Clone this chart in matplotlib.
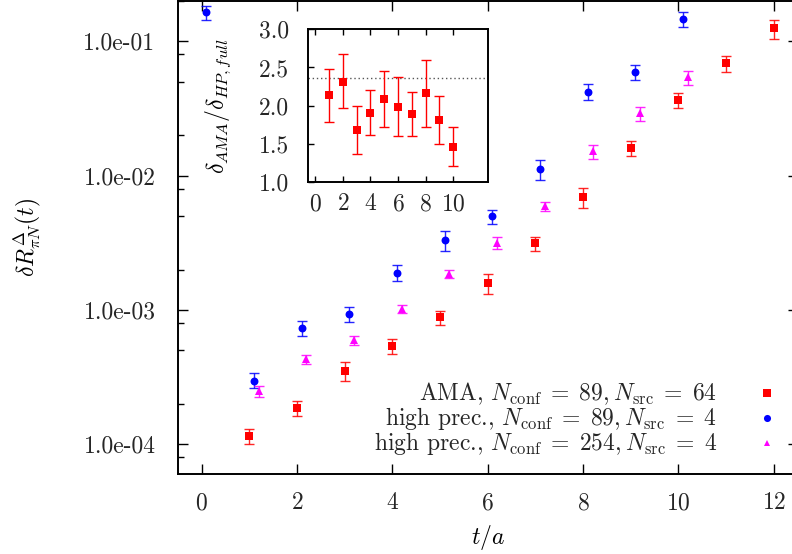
import numpy as np
import matplotlib
matplotlib.use("Agg")
import matplotlib.pyplot as plt
from matplotlib.ticker import FixedLocator, FuncFormatter, NullFormatter

# --- data ---
# AMA, N_conf = 89, N_src = 64
t_ama = np.array([1, 2, 3, 4, 5, 6, 7, 8, 9, 10, 11, 12])
y_ama = np.array([1.15e-4, 1.86e-4, 3.51e-4, 5.38e-4, 8.83e-4, 1.58e-3,
                  3.14e-3, 6.9e-3, 1.60e-2, 3.64e-2, 6.86e-2, 1.25e-1])
lo_ama = np.array([1.0e-4, 1.61e-4, 2.94e-4, 4.72e-4, 7.67e-4, 1.32e-3,
                   2.74e-3, 5.75e-3, 1.40e-2, 3.19e-2, 5.96e-2, 1.035e-1])
hi_ama = np.array([1.29e-4, 2.09e-4, 4.12e-4, 6.04e-4, 9.9e-4, 1.86e-3,
                   3.52e-3, 8.05e-3, 1.82e-2, 4.13e-2, 7.73e-2, 1.45e-1])

# high prec., N_conf = 89, N_src = 4
t_hp89 = np.array([0, 1, 2, 3, 4, 5, 6, 7, 8, 9, 10])
y_hp89 = np.array([1.645e-1, 2.97e-4, 7.33e-4, 9.25e-4, 1.90e-3, 3.33e-3,
                   4.97e-3, 1.116e-2, 4.22e-2, 5.91e-2, 1.468e-1])
lo_hp89 = np.array([1.44e-1, 2.61e-4, 6.43e-4, 8.07e-4, 1.65e-3, 2.77e-3,
                    4.33e-3, 9.3e-3, 3.67e-2, 5.16e-2, 1.285e-1])
hi_hp89 = np.array([1.845e-1, 3.37e-4, 8.26e-4, 1.044e-3, 2.15e-3, 3.86e-3,
                    5.57e-3, 1.31e-2, 4.79e-2, 6.67e-2, 1.664e-1])

# high prec., N_conf = 254, N_src = 4
t_hp254 = np.array([1, 2, 3, 4, 5, 6, 7, 8, 9, 10])
y_hp254 = np.array([2.49e-4, 4.31e-4, 5.96e-4, 1.02e-3, 1.86e-3, 3.14e-3,
                    5.91e-3, 1.52e-2, 2.91e-2, 5.43e-2])
lo_hp254 = np.array([2.23e-4, 3.95e-4, 5.44e-4, 9.5e-4, 1.73e-3, 2.84e-3,
                     5.49e-3, 1.324e-2, 2.56e-2, 4.74e-2])
hi_hp254 = np.array([2.7e-4, 4.65e-4, 6.43e-4, 1.09e-3, 1.99e-3, 3.52e-3,
                     6.41e-3, 1.695e-2, 3.25e-2, 6.02e-2])

# inset: ratio of errors
t_ratio = np.array([1, 2, 3, 4, 5, 6, 7, 8, 9, 10])
ratio = np.array([2.139, 2.309, 1.681, 1.903, 2.082, 1.982, 1.890, 2.165, 1.812, 1.462])
ratio_lo = np.array([1.785, 1.965, 1.371, 1.62, 1.724, 1.598, 1.606, 1.72, 1.493, 1.209])
ratio_hi = np.array([2.483, 2.671, 1.991, 2.2, 2.449, 2.37, 2.182, 2.60, 2.13, 1.724])
ratio_ref = 2.365

labels = [r"AMA, $N_{\rm conf}\;=\;89, N_{\rm src}\;=\;64$",
          r"high prec., $N_{\rm conf}\;=\;89, N_{\rm src}\;=\;4$",
          r"high prec., $N_{\rm conf}\;=\;254, N_{\rm src}\;=\;4$"]

# --- style ---
plt.rcParams['font.family'] = 'cmr10'
plt.rcParams['mathtext.fontset'] = 'cm'
plt.rcParams['axes.formatter.use_mathtext'] = True
font_size = 17
text_col = '#262626'
plt.rcParams['text.color'] = text_col
plt.rcParams['xtick.labelcolor'] = text_col
plt.rcParams['ytick.labelcolor'] = text_col

fig = plt.figure(figsize=(7.92, 5.54), dpi=100)
ax = fig.add_axes([0.2244, 0.1444, 0.7826, 0.8538])

series = [
    (t_ama, 0.0, y_ama, lo_ama, hi_ama, 's', 5.9, '#ff0000'),
    (t_hp89, 0.1, y_hp89, lo_hp89, hi_hp89, 'o', 5.7, '#0000ff'),
    (t_hp254, 0.2, y_hp254, lo_hp254, hi_hp254, '^', 5.6, '#ff00ff'),
]
for t, off, y, lo, hi, mk, ms, col in series:
    eb = ax.errorbar(t + off, y, yerr=[y - lo, hi - y], fmt=mk, ms=ms, color=col,
                     elinewidth=1.0, capsize=3.4, capthick=1.0, ecolor=col)
    eb[0].set_markeredgewidth(0)
    for c in eb[1]:
        c.set_alpha(0.85)
    for c in eb[2]:
        c.set_alpha(0.85)

ax.set_yscale('log')
ax.set_xlim(-0.5, 12.5)
ax.set_ylim(6e-5, 0.2)

ax.xaxis.set_major_locator(FixedLocator(np.arange(0, 13, 2)))
ax.yaxis.set_major_locator(FixedLocator([1e-4, 1e-3, 1e-2, 1e-1]))
minors = [m * 10.0 ** e for e in range(-5, 0) for m in (2, 5, 8)]
ax.yaxis.set_minor_locator(FixedLocator(minors))
ax.yaxis.set_minor_formatter(NullFormatter())
ax.yaxis.set_major_formatter(FuncFormatter(lambda v, p: "1.0e-%02d" % round(-np.log10(v))))
ax.tick_params(which='both', direction='in', top=True, right=True, labelsize=font_size)
ax.tick_params(which='major', length=7, width=1.0)
ax.tick_params(which='minor', length=4, width=1.0)
ax.tick_params(axis='x', pad=13)
ax.tick_params(axis='y', pad=16)
for s in ax.spines.values():
    s.set_linewidth(1.4)

ax.set_xlabel(r"$t/a$", fontsize=font_size)
ax.xaxis.set_label_coords(0.5, -0.103)
ax.set_ylabel(r"$\delta R^{\Delta}_{\pi N}(t)$", fontsize=font_size)
ax.yaxis.label.set_va('center')
ax.yaxis.set_label_coords(-0.243, 0.5)

# legend: right-aligned text, marker key to the right
rows = [0.1706, 0.1178, 0.0649]
for (t, off, y, lo, hi, mk, ms, col), lab, yr in zip(series, labels, rows):
    ax.text(0.8697, yr, lab, transform=ax.transAxes, ha='right', va='center',
            fontsize=font_size)
    ax.plot([0.9503], [yr], mk, ms=ms - 0.6, color=col, mew=0,
            transform=ax.transAxes, clip_on=False)

# --- inset ---
ax_in = fig.add_axes([0.3893, 0.6715, 0.2265, 0.2756])
ax_in.axhline(ratio_ref, color='#555555', ls=(0, (1, 2)), lw=1.0)
eb = ax_in.errorbar(t_ratio, ratio, yerr=[ratio - ratio_lo, ratio_hi - ratio], fmt='s',
                    ms=5.9, color='#ff0000', elinewidth=1.0, capsize=3.4, capthick=1.0)
eb[0].set_markeredgewidth(0)
ax_in.set_xlim(-0.5, 12.5)
ax_in.set_ylim(1.0, 3.0)
ax_in.xaxis.set_major_locator(FixedLocator(np.arange(0, 11, 2)))
ax_in.yaxis.set_major_locator(FixedLocator([1.0, 1.5, 2.0, 2.5, 3.0]))
ax_in.yaxis.set_major_formatter(FuncFormatter(lambda v, p: "%.1f" % v))
ax_in.tick_params(direction='in', top=True, right=False, length=4.5, width=1.0,
                  labelsize=font_size)
ax_in.tick_params(axis='x', pad=8)
ax_in.tick_params(axis='y', pad=14)
for s in ax_in.spines.values():
    s.set_linewidth(1.4)
ax_in.set_ylabel(r"$\delta_{AMA}/\delta_{HP,full}$", fontsize=font_size)
ax_in.yaxis.label.set_va('center')
ax_in.yaxis.set_label_coords(-0.503, 0.5)

fig.savefig("out.png", dpi=100)
